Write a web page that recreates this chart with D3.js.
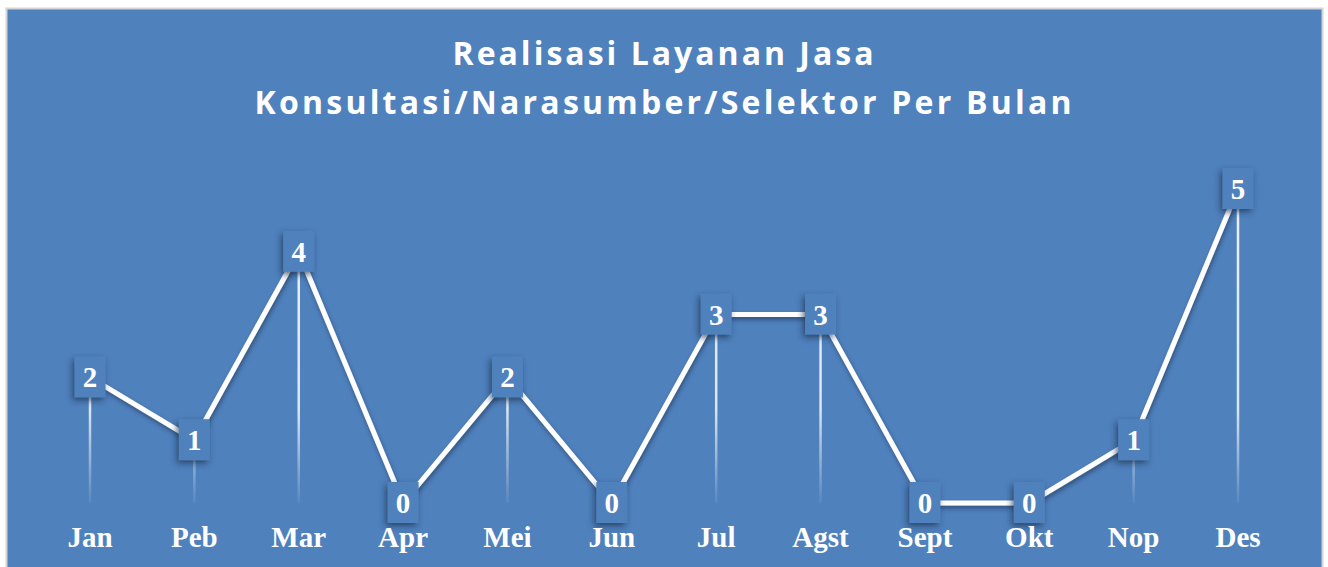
<!DOCTYPE html>
<html>
<head>
<meta charset="utf-8">
<script src="https://cdn.jsdelivr.net/npm/d3@7"></script>
<style>
  body { margin: 0; background: #fff; }
</style>
</head>
<body>
<div id="chart"></div>
<script>
const months = ["Jan", "Peb", "Mar", "Apr", "Mei", "Jun", "Jul", "Agst", "Sept", "Okt", "Nop", "Des"];
const values = [2, 1, 4, 0, 2, 0, 3, 3, 0, 0, 1, 5];
const titleLines = ["Realisasi Layanan Jasa", "Konsultasi/Narasumber/Selektor Per Bulan"];

const width = 1328, height = 567;
const svg = d3.select("#chart")
  .append("svg")
  .attr("width", width)
  .attr("height", height);

const defs = svg.append("defs");

// ombres
const lineShadow = defs.append("filter").attr("id", "lineShadow")
  .attr("x", "-20%").attr("y", "-20%").attr("width", "140%").attr("height", "140%");
lineShadow.append("feDropShadow")
  .attr("dx", 1).attr("dy", 3).attr("stdDeviation", 2)
  .attr("flood-color", "#1f3550").attr("flood-opacity", 0.6);

const boxShadow = defs.append("filter").attr("id", "boxShadow")
  .attr("x", "-50%").attr("y", "-50%").attr("width", "200%").attr("height", "200%");
boxShadow.append("feDropShadow")
  .attr("dx", -2).attr("dy", 3).attr("stdDeviation", 3)
  .attr("flood-color", "#1a2f4a").attr("flood-opacity", 0.7);

// fond
svg.append("rect")
  .attr("x", 6.5).attr("y", 8.5)
  .attr("width", 1316).attr("height", 570)
  .attr("fill", "#4f81bd")
  .attr("stroke", "#d4d4d4")
  .attr("stroke-width", 2);

// titre
titleLines.forEach((t, i) => {
  svg.append("text")
    .attr("x", 663)
    .attr("y", 65 + i * 49)
    .attr("text-anchor", "middle")
    .attr("fill", "#fff")
    .style("font-family", "'Open Sans', sans-serif")
    .style("font-weight", "bold")
    .style("font-size", "32px")
    .attr("textLength", i === 0 ? 421 : 817)
    .attr("lengthAdjust", "spacing")
    .text(t);
});

// echelles
const x = d3.scalePoint()
  .domain(months)
  .range([90, 1238]);

const y = d3.scaleLinear()
  .domain([0, 5])
  .range([503, 189]);

// degrade des lignes verticales
const grad = defs.append("linearGradient").attr("id", "dropGrad")
  .attr("gradientUnits", "userSpaceOnUse")
  .attr("x1", 0).attr("x2", 0)
  .attr("y1", y(5)).attr("y2", y(0));
grad.append("stop").attr("offset", "0").attr("stop-color", "#fff").attr("stop-opacity", 0.9);
grad.append("stop").attr("offset", "0.7").attr("stop-color", "#fff").attr("stop-opacity", 0.8);
grad.append("stop").attr("offset", "1").attr("stop-color", "#fff").attr("stop-opacity", 0.05);

const data = months.map((m, i) => ({ m, v: values[i] }));

svg.append("g").selectAll("line")
  .data(data.filter(d => d.v > 0))
  .join("line")
  .attr("x1", d => x(d.m)).attr("x2", d => x(d.m))
  .attr("y1", d => y(d.v)).attr("y2", y(0))
  .attr("stroke", "url(#dropGrad)")
  .attr("stroke-width", 2.5);

// courbe
const line = d3.line()
  .x(d => x(d.m))
  .y(d => y(d.v));

svg.append("path")
  .datum(data)
  .attr("d", line)
  .attr("fill", "none")
  .attr("stroke", "#fff")
  .attr("stroke-width", 5)
  .attr("stroke-linejoin", "round")
  .attr("filter", "url(#lineShadow)");

// etiquettes
const labels = svg.append("g").selectAll("g")
  .data(data)
  .join("g")
  .attr("transform", d => `translate(${x(d.m)},${y(d.v)})`);

labels.append("rect")
  .attr("x", -15.5).attr("y", -21)
  .attr("width", 31).attr("height", 41)
  .attr("fill", "#4f81bd")
  .attr("filter", "url(#boxShadow)");

labels.append("text")
  .attr("y", 10)
  .attr("text-anchor", "middle")
  .attr("fill", "#fff")
  .style("font-family", "'Liberation Serif', serif")
  .style("font-weight", "bold")
  .style("font-size", "29px")
  .text(d => d.v);

// axe des mois
svg.append("g").selectAll("text")
  .data(months)
  .join("text")
  .attr("x", d => x(d))
  .attr("y", 547)
  .attr("text-anchor", "middle")
  .attr("fill", "#fff")
  .style("font-family", "'Liberation Serif', serif")
  .style("font-weight", "bold")
  .style("font-size", "29px")
  .text(d => d);
</script>
</body>
</html>
